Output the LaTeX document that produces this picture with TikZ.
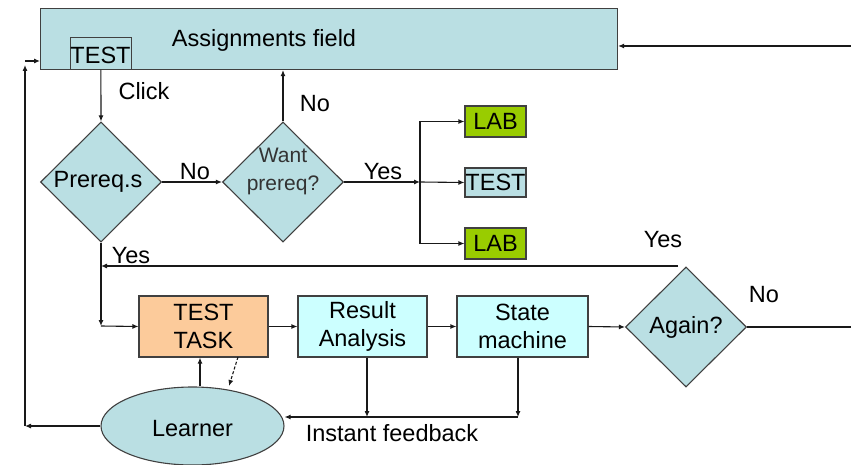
\documentclass[tikz,border=0pt]{standalone}
\usepackage{fontspec}
\setmainfont{Liberation Sans}
\usetikzlibrary{shapes.geometric,arrows.meta}
\definecolor{lblue}{HTML}{BADFE3}
\definecolor{lgreen}{HTML}{99CC00}
\definecolor{lorange}{HTML}{FCCB9B}
\definecolor{lcyan}{HTML}{CCFFFF}
\definecolor{edge}{HTML}{404040}
\tikzset{
  base/.style={draw=edge,line width=1.1pt,inner sep=0pt,font=\fontsize{23.5}{28}\selectfont,text=black},
  box/.style={base,rectangle,align=center},
  dia/.style={base,diamond,fill=lblue,minimum width=121pt,minimum height=120pt,aspect=1,align=center},
  arr/.style={draw=black!90,line width=1.1pt,-{Latex[length=6pt,width=5pt]}},
  ln/.style={draw=black!90,line width=1.1pt},
  lbl/.style={font=\fontsize{23.5}{28}\selectfont,inner sep=0pt,text=black}
}
\begin{document}
\begin{tikzpicture}[x=1pt,y=-1pt]
\useasboundingbox (0,0) rectangle (851,465);
% assignments field
\node[box,fill=lblue,minimum width=577pt,minimum height=61pt,anchor=north west] (assign) at (40,8) {};
\node[lbl] (assigntxt) at (264,40) {Assignments field};
\node[box,fill=lblue,line width=0.8pt,minimum width=61pt,minimum height=32pt,anchor=north west] (test0) at (70,37) {};
\node[lbl] (test0txt) at (100.5,55) {TEST};
\coordinate (rin) at (851,46);
\draw[arr] (rin) -- (assign.east |- rin);
% diamonds
\node[dia] (pre) at (101,182) {};
\node[lbl] (pretxt) at (98,182) {Prereq.s};
\node[dia] (want) at (283,182) {};
\node[lbl,font=\fontsize{21}{28}\selectfont,text=black!80,align=center] (wanttxt) at (283,171) {Want\\prereq?};
\draw[arr] (test0.south) -- (pre.north);
\node[lbl] (click) at (144,91) {Click};
\draw[arr] (pre.east) -- (want.west);
\node[lbl] (no1) at (195,172) {No};
\draw[arr] (want.north) -- (want.north |- assign.south);
\node[lbl] (no2) at (315,104) {No};
% branch to LAB / TEST / LAB
\coordinate (jn) at (420,182);
\draw[arr] (want.east) -- (jn);
\node[lbl] (yes1) at (383,172) {Yes};
\node[box,fill=lgreen,minimum width=61pt,minimum height=31pt] (lab1) at (495.5,121.5) {LAB};
\node[box,fill=lblue,minimum width=61pt,minimum height=29pt] (test1) at (495.5,182.5) {TEST};
\node[box,fill=lgreen,minimum width=61pt,minimum height=31pt] (lab2) at (495.5,243.5) {LAB};
\draw[ln] (jn |- lab1) -- (jn |- lab2);
\draw[arr] (jn |- lab1) -- (lab1.west);
\draw[arr] (jn) -- (test1.west);
\draw[arr] (jn |- lab2) -- (lab2.west);
% bottom row
\node[box,fill=lorange,minimum width=129pt,minimum height=61pt] (task) at (203.5,326.5) {TEST\\TASK};
\node[box,fill=lcyan,minimum width=129pt,minimum height=61pt] (result) at (362.5,326.5) {Result\\Analysis};
\node[box,fill=lcyan,minimum width=131pt,minimum height=61pt] (state) at (522.5,326.5) {State\\machine};
\node[dia] (again) at (686,327) {Again?};
\coordinate (cj) at (101,326);
\draw[arr] (pre.south) -- (cj);
\draw[arr] (cj) -- (task.west);
\draw[arr] (task.east) -- (result.west);
\draw[arr] (result.east) -- (state.west);
\draw[arr] (state.east) -- (again.west);
\coordinate (noend) at (851,327);
\draw[ln] (again.east) -- (noend);
\node[lbl] (no3) at (764,295) {No};
% yes loop
\coordinate (ys) at (678,266);
\draw[arr] (ys) -- (101,266);
\node[lbl] (yes2) at (131,256) {Yes};
\node[lbl] (yes3) at (663,240) {Yes};
% learner
\node[base,ellipse,fill=lblue,minimum width=183pt,minimum height=78pt] (learner) at (192.5,426) {};
\node[lbl] (learnertxt) at (192.5,429) {Learner};
\draw[arr] (learner.north -| 200,0) -- (task.south -| 200,0);
\draw[arr,densely dashed] (238,357) -- (229,386);
\coordinate (fb) at (518,417);
\draw[arr] (result.south -| 367,0) -- (367,417);
\draw[arr] (state.south -| 518,0) -- (fb);
\draw[arr] (fb) -- (learner.east |- fb);
\node[lbl] (instant) at (392,433) {Instant feedback};
% back to assignments
\coordinate (lb) at (25,426);
\coordinate (lt) at (25,61);
\draw[arr] (learner.west) -- (lb);
\draw[arr] (lb) -- (25,65);
\draw[arr] (lt) -- (assign.west |- lt);
\end{tikzpicture}
\end{document}
